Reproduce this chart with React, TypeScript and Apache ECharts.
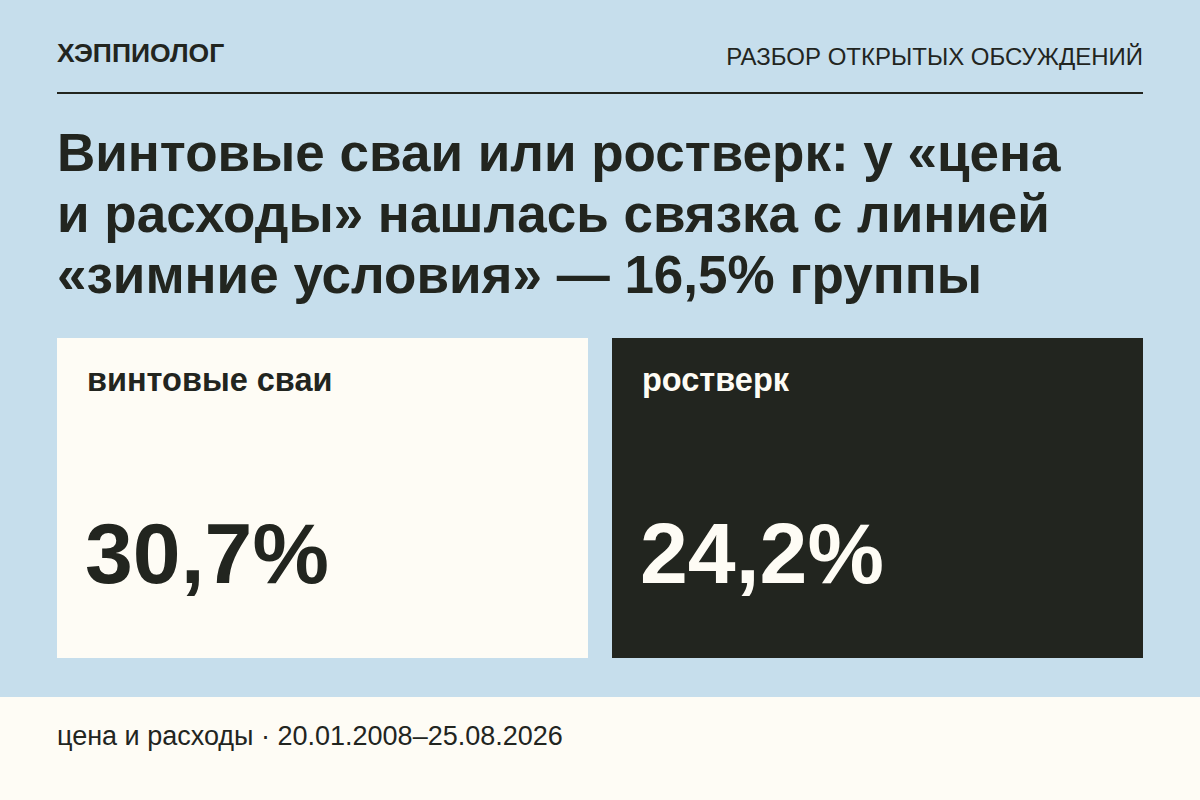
import React, { useEffect, useRef } from "react";
import * as echarts from "echarts";

// data read from the card
const brand = "ХЭППИОЛОГ";
const section = "РАЗБОР ОТКРЫТЫХ ОБСУЖДЕНИЙ";
const titleLines = [
  "Винтовые сваи или ростверк: у «цена",
  "и расходы» нашлась связка с линией",
  "«зимние условия» — 16,5% группы",
];
const categories = ["винтовые сваи", "ростверк"];
const shares = [30.7, 24.2];
const footerTopic = "цена и расходы";
const period = ["20.01.2008", "25.08.2026"];

const BLUE = "#C6DEEC";
const CREAM = "#FEFCF5";
const DARK = "#22251F";
const FONT = "'Liberation Sans', Arial, sans-serif";

// y for verticalAlign middle from alphabetic baseline
const mid = (baseline: number, size: number) => baseline - 0.3465 * size;
const fmt = (v: number) => v.toFixed(1).replace(".", ",") + "%";

const App: React.FC = () => {
  const chartRef = useRef<HTMLDivElement | null>(null);

  useEffect(() => {
    if (!chartRef.current) return;
    const chart = echarts.init(chartRef.current, undefined, { renderer: "svg" });

    const cardX = [57, 612];
    const cards: any[] = [];
    categories.forEach((name, i) => {
      const dark = i === 1;
      const x = cardX[i];
      cards.push({
        type: "rect",
        shape: { x, y: 338, width: 531, height: 320 },
        style: { fill: dark ? DARK : CREAM },
      });
      cards.push({
        type: "text",
        x: x + 30,
        y: mid(391, 32.5),
        style: {
          text: name,
          font: `bold 32.5px ${FONT}`,
          fill: dark ? CREAM : DARK,
          verticalAlign: "middle",
        },
      });
      cards.push({
        type: "text",
        x: x + 28,
        y: mid(583, 86),
        style: {
          text: fmt(shares[i]),
          font: `bold 86px ${FONT}`,
          fill: dark ? CREAM : DARK,
          verticalAlign: "middle",
        },
      });
    });

    const option = {
      animation: false,
      backgroundColor: BLUE,
      graphic: [
        {
          type: "text",
          x: 57,
          y: mid(62, 26.5),
          style: { text: brand, font: `bold 26.5px ${FONT}`, fill: DARK, verticalAlign: "middle" },
        },
        {
          type: "text",
          x: 1143,
          y: mid(64.5, 24),
          style: { text: section, font: `24px ${FONT}`, fill: DARK, align: "right", verticalAlign: "middle" },
        },
        {
          type: "rect",
          shape: { x: 57, y: 92, width: 1086, height: 2 },
          style: { fill: DARK },
        },
        ...titleLines.map((line, i) => ({
          type: "text",
          x: 57,
          y: mid(171 + i * 61, 53),
          style: { text: line, font: `bold 53px ${FONT}`, fill: DARK, verticalAlign: "middle" },
        })),
        ...cards,
        {
          type: "rect",
          shape: { x: 0, y: 697, width: 1200, height: 103 },
          style: { fill: CREAM },
        },
        {
          type: "text",
          x: 57,
          y: mid(745, 27),
          style: {
            text: `${footerTopic} · ${period[0]}–${period[1]}`,
            font: `27px ${FONT}`,
            fill: DARK,
            verticalAlign: "middle",
          },
        },
      ],
    };

    chart.setOption(option);
    return () => chart.dispose();
  }, []);

  return (
    <div style={{ position: "fixed", left: 0, top: 0, width: 1200, height: 800, background: BLUE }}>
      <div ref={chartRef} style={{ width: 1200, height: 800 }} />
    </div>
  );
};

export default App;
